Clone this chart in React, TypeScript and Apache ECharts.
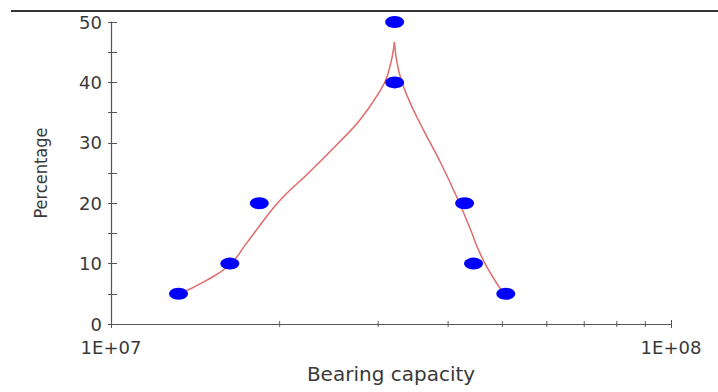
import React, { useEffect, useRef } from "react";
import * as echarts from "echarts";

// Measured points (bearing capacity, percentage)
const pointX = [1.32e7, 1.63e7, 1.84e7, 3.21e7, 3.21e7, 4.28e7, 4.44e7, 5.07e7];
const pointY = [5, 10, 20, 40, 50, 20, 10, 5];

// Fitted curve: rising branch and falling branch (cusp at the peak)
const riseX = [1.323e7, 1.473e7, 1.633e7, 1.737e7, 1.847e7, 1.949e7, 2.048e7, 2.241e7, 2.569e7, 2.789e7, 2.991e7, 3.117e7, 3.208e7];
const riseY = [5.0, 7.1, 9.9, 13.1, 16.4, 19.2, 21.4, 24.8, 30.3, 33.9, 37.9, 41.2, 46.7];
const fallX = [3.208e7, 3.262e7, 3.385e7, 3.615e7, 3.878e7, 4.159e7, 4.387e7, 4.534e7, 4.725e7, 5.026e7];
const fallY = [46.7, 42.0, 37.6, 32.1, 26.7, 20.7, 15.6, 12.2, 8.9, 5.0];

// Minor log ticks on the x axis
const xMinorTicks = [2e7, 3e7, 4e7, 5e7, 6e7, 7e7, 8e7, 9e7];

const xTitle = "Bearing capacity";
const yTitle = "Percentage";

const axisColor = "#555";
const textColor = "#3a3a3a";
const curveColor = "#e06a6a";

function sci(v: number): string {
  const e = Math.round(Math.log10(v));
  const m = v / Math.pow(10, e);
  return `${Math.round(m)}E+${String(e).padStart(2, "0")}`;
}

export default function App() {
  const ref = useRef<HTMLDivElement>(null);
  useEffect(() => {
    if (!ref.current) return;
    const chart = echarts.init(ref.current, null, { renderer: "svg" });
    const baseX = {
      type: "log" as const,
      logBase: 10,
      min: 1e7,
      max: 1e8,
      splitLine: { show: false },
    };
    const baseY = {
      type: "value" as const,
      min: 0,
      max: 50,
      interval: 10,
      splitLine: { show: false },
    };
    const curve = (xs: number[], ys: number[]) => ({
      type: "line" as const,
      data: xs.map((x, i) => [x, ys[i]]),
      showSymbol: false,
      smooth: 0.5,
      lineStyle: { color: curveColor, width: 1.5 },
      z: 2,
    });
    chart.setOption({
      animation: false,
      grid: { left: 111, right: 47, top: 22, bottom: 68 },
      graphic: [
        {
          type: "line",
          shape: { x1: 11, y1: 11, x2: 718, y2: 11 },
          style: { stroke: "#333", lineWidth: 2 },
        },
      ],
      xAxis: [
        {
          ...baseX,
          name: xTitle,
          nameLocation: "middle",
          nameGap: 40,
          nameTextStyle: { fontFamily: "DejaVu Sans", fontSize: 20, color: textColor },
          axisLine: { show: true, lineStyle: { color: axisColor, width: 1.2 } },
          axisTick: { show: true, length: 4, lineStyle: { color: axisColor } },
          axisLabel: {
            fontFamily: "DejaVu Sans",
            fontSize: 18,
            color: textColor,
            margin: 14,
            formatter: (v: number) => sci(v),
          },
        },
        {
          ...baseX,
          position: "bottom",
          axisLine: { show: false },
          axisTick: { show: true, inside: true, length: 4, lineStyle: { color: axisColor } },
          axisLabel: { show: false },
        },
      ],
      yAxis: [
        {
          ...baseY,
          name: yTitle,
          nameLocation: "middle",
          nameGap: 62,
          nameRotate: 90,
          nameTextStyle: {
            fontFamily: "DejaVu Sans Condensed, Liberation Sans Narrow, Liberation Sans",
            fontSize: 18,
            color: textColor,
          },
          axisLine: { show: true, lineStyle: { color: axisColor, width: 1.2 } },
          axisTick: { show: true, length: 3, lineStyle: { color: axisColor } },
          minorTick: { show: true, splitNumber: 2, length: 3, lineStyle: { color: axisColor } },
          axisLabel: { fontFamily: "DejaVu Sans", fontSize: 18, color: textColor, margin: 9 },
        },
        {
          ...baseY,
          position: "left",
          axisLine: { show: false },
          axisTick: { show: true, inside: true, length: 6, lineStyle: { color: axisColor } },
          minorTick: { show: true, splitNumber: 2, length: 6, lineStyle: { color: axisColor } },
          axisLabel: { show: false },
        },
      ],
      series: [
        {
          type: "scatter",
          data: xMinorTicks.map((x) => [x, 0]),
          symbol: "rect",
          symbolSize: [1.2, 6],
          itemStyle: { color: axisColor },
          silent: true,
          z: 1,
        },
        curve(riseX, riseY),
        curve(fallX, fallY),
        {
          type: "scatter",
          data: pointX.map((x, i) => [x, pointY[i]]),
          symbol: "circle",
          symbolSize: [19, 12],
          itemStyle: { color: "#0000ff", opacity: 1 },
          z: 3,
        },
      ],
    });
    return () => chart.dispose();
  }, []);
  return (
    <div
      ref={ref}
      style={{ position: "absolute", left: 0, top: 0, width: 718, height: 392, background: "#fff" }}
    />
  );
}
